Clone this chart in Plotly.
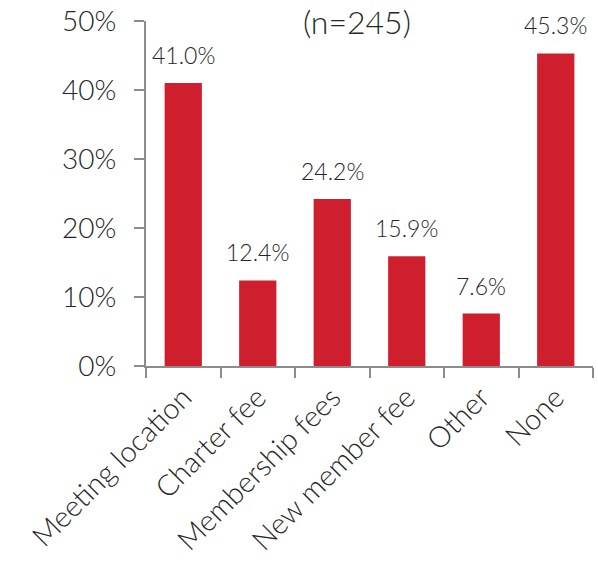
import plotly.graph_objects as go

categories = ["Meeting location", "Charter fee", "Membership fees", "New member fee", "Other", "None"]
values = [41.0, 12.4, 24.2, 15.9, 7.6, 45.3]
value_labels = ["41.0%", "12.4%", "24.2%", "15.9%", "7.6%", "45.3%"]
y_ticks = [0, 10, 20, 30, 40, 50]
y_tick_labels = ["0%", "10%", "20%", "30%", "40%", "50%"]
title_text = "(n=245)"

FONT = "Lato"
TXT = "#262626"
AX = "#8c8c8c"

fig = go.Figure()
fig.add_trace(go.Bar(x=categories, y=values, marker=dict(color="#cf1f2e", line=dict(width=0)),
                     width=0.5, hoverinfo="skip"))

for c, v, t in zip(categories, values, value_labels):
    fig.add_annotation(x=c, y=v, text=t, showarrow=False, yanchor="bottom", yshift=12,
                       font=dict(family=FONT, size=23, color=TXT, weight=300))

fig.add_annotation(xref="paper", yref="paper", x=0.472, y=1.0, text=title_text, showarrow=False,
                   xanchor="center", yanchor="middle",
                   font=dict(family=FONT, size=32, color=TXT, weight=300))

fig.update_layout(
    width=598, height=565,
    margin=dict(l=146, r=5, t=21, b=199),
    paper_bgcolor="white", plot_bgcolor="white",
    showlegend=False,
)
fig.update_xaxes(
    automargin=False,
    showline=True, linecolor=AX, linewidth=2,
    ticks="outside", ticklen=10, tickcolor=AX, tickwidth=2,
    tickson="boundaries", tickangle=-45, ticklabelstandoff=1,
    tickfont=dict(family=FONT, size=29, color=TXT, weight=300),
    showgrid=False, zeroline=False,
)
fig.update_yaxes(
    automargin=False,
    range=[0, 50], tickvals=y_ticks, ticktext=y_tick_labels,
    showline=True, linecolor=AX, linewidth=2,
    ticks="outside", ticklen=10, tickcolor=AX, tickwidth=2, ticklabelstandoff=12,
    tickfont=dict(family=FONT, size=28, color=TXT, weight=300),
    showgrid=False, zeroline=False,
)
fig.write_html("out.html", config={"displayModeBar": False},
               post_script="document.body.style.margin='0';")
